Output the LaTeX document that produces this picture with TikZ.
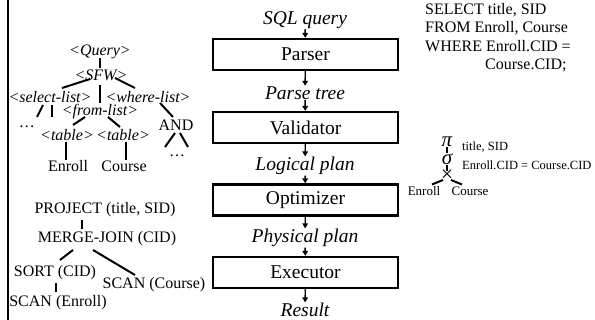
\documentclass[tikz,border=0pt]{standalone}
\usepackage{fontspec}
\setmainfont{Liberation Serif}
\usetikzlibrary{arrows.meta,calc}
\begin{document}
\begin{tikzpicture}[x=1pt,y=-1pt,
  stage/.style={draw,line width=2.2pt,minimum width=185pt,minimum height=31pt,inner sep=0pt,font=\fontsize{19.5}{22}\selectfont},
  flow/.style={font=\fontsize{19.5}{22}\selectfont\itshape,inner sep=0.5pt},
  arr/.style={line width=1.4pt,-{Triangle[length=5pt,width=5.5pt]}},
  gram/.style={font=\fontsize{16}{18}\selectfont\itshape,inner sep=0pt},
  txt/.style={font=\fontsize{16}{18}\selectfont,inner sep=0pt},
  small/.style={font=\fontsize{12.5}{14}\selectfont,inner sep=0pt},
  greek/.style={font=\fontsize{21}{22}\selectfont\itshape,inner sep=0pt},
  link/.style={line width=2pt}
]
\useasboundingbox (0,0) rectangle (595,320);
\fill[white] (0,0) rectangle (595,320);
\draw[line width=2.5pt] (8,0) -- (8,320);

% central pipeline
\node[flow] (sql) at (305,20) {SQL query};
\node[stage] (parser) at (305.5,54.5) {Parser};
\node[flow] (ptree) at (305,93) {Parse tree};
\node[stage] (valid) at (305.5,127.5) {Validator};
\node[flow] (lplan) at (305,166) {Logical plan};
\node[stage] (optim) at (305.5,200) {Optimizer};
\node[flow] (pplan) at (305,238) {Physical plan};
\node[stage] (exec) at (305.5,272.5) {Executor};
\node[flow] (result) at (305,310) {Result};
\draw[arr] (sql) -- (parser);
\draw[arr] (parser) -- (ptree);
\draw[arr] (ptree) -- (valid);
\draw[arr] (valid) -- (lplan);
\draw[arr] (lplan) -- (optim);
\draw[arr] (optim) -- (pplan);
\draw[arr] (pplan) -- (exec);
\draw[arr] (exec) -- (result);

% parse tree
\node[gram] (q) at (100,52) {<Query>};
\node[gram] (sfw) at (101,75) {<SFW>};
\node[gram] (sel) at (50,97) {<select-list>};
\node[gram] (where) at (148,97) {<where-list>};
\node[gram] (from) at (100,112) {<from-list>};
\node[txt] (dots1) at (27,127) {\ldots};
\node[gram] (t1) at (67,135) {<table>};
\node[gram] (t2) at (123,135) {<table>};
\node[txt] (and) at (176,125) {AND};
\node[txt] (dots2) at (177,156) {\ldots};
\node[txt] (e1) at (68,166) {Enroll};
\node[txt] (c1) at (124,166) {Course};
\coordinate (s1) at (37,117);
\coordinate (s2) at (52,117);
\coordinate (a1) at (165,147);
\coordinate (a2) at (188,147);
\draw[link] ($(q)+(0,6)$) -- ($(sfw)+(-1,-7)$);
\draw[link] ($(sfw)+(-11,4)$) -- ($(sel)+(12,-9)$);
\draw[link] ($(sfw)+(14,3)$) -- ($(where)+(-13,-9)$);
\draw[link] ($(sfw)+(-1,10)$) -- ($(from)+(0,-9)$);
\draw[link] ($(sel)+(-7,8)$) -- (s1);
\draw[link] ($(sel)+(2,8)$) -- (s2);
\draw[link] ($(from)+(-15,5)$) -- ($(t1)+(6,-10)$);
\draw[link] ($(from)+(8,5)$) -- ($(t2)+(-3,-8)$);
\draw[link] ($(where)+(12,6)$) -- ($(and)+(-3,-8)$);
\draw[link] ($(and)+(-1,8)$) -- (a1);
\draw[link] ($(and)+(4,8)$) -- (a2);
\draw[link] ($(t1)+(-1,7)$) -- ($(e1)+(-2,-6)$);
\draw[link] ($(t2)+(3,7)$) -- ($(c1)+(2,-6)$);

% physical plan
\node[txt] (proj) at (105,210) {PROJECT (title, SID)};
\node[txt] (mj) at (107,239) {MERGE-JOIN (CID)};
\node[txt] (sort) at (55,273) {SORT (CID)};
\node[txt] (scanc) at (154,285) {SCAN (Course)};
\node[txt] (scane) at (58,303) {SCAN (Enroll)};
\draw[link] ($(proj)+(-23,10)$) -- ($(mj)+(-25,-10)$);
\draw[link] ($(mj)+(-34,11)$) -- ($(sort)+(5,-13)$);
\draw[link] ($(mj)+(-14,11)$) -- ($(scanc)+(-19,-10)$);
\draw[link] ($(sort)+(1,10)$) -- ($(scane)+(-2,-11)$);

% SQL text
\node[txt,anchor=north west,align=left,font=\fontsize{16}{18.5}\selectfont] (sqltext) at (425,3)
  {SELECT title, SID\\FROM Enroll, Course\\WHERE Enroll.CID =\\\hspace*{60pt}Course.CID;};

% logical plan tree
\node[greek] (pi) at (447,142) {π};
\node[greek] (sig) at (447,159) {σ};
\node[font=\fontsize{22}{24}\selectfont,inner sep=0pt] (cross) at (447,176) {×};
\node[small,anchor=west] (pil) at (462,147) {title, SID};
\node[small,anchor=west] (sigl) at (462,165) {Enroll.CID = Course.CID};
\node[font=\fontsize{13}{15}\selectfont,inner sep=0pt] (en) at (424,191) {Enroll};
\node[font=\fontsize{13}{15}\selectfont,inner sep=0pt] (co) at (470,191) {Course};
\draw[link] ($(pi)+(0,5.5)$) -- ($(sig)+(0,-6)$);
\draw[link] ($(sig)+(0,6)$) -- ($(cross)+(0,-4.5)$);
\draw[link] ($(cross)+(-4,4)$) -- ($(en)+(8,-6.5)$);
\draw[link] ($(cross)+(4,4)$) -- ($(co)+(-8,-6.5)$);
\end{tikzpicture}
\end{document}
